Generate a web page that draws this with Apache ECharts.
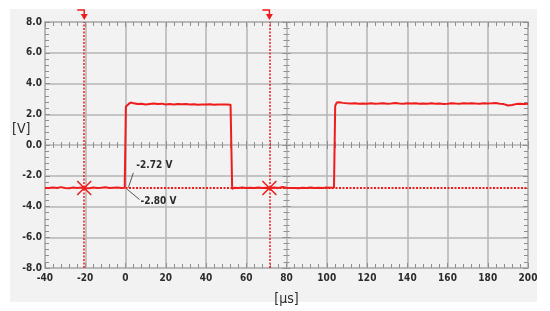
<!DOCTYPE html>
<html>
<head>
<meta charset="utf-8">
<script src="https://cdn.jsdelivr.net/npm/echarts@6/dist/echarts.min.js"></script>
<style>
html, body { margin: 0; padding: 0; background: #fff; }
#panel { position: absolute; left: 10px; top: 9px; width: 527px; height: 293px; background: #f2f2f2; }
#chart { position: absolute; left: 0; top: 0; width: 550px; height: 311px; }
</style>
</head>
<body>
<div id="panel"></div>
<div id="chart"></div>
<script>
// scope trace, time in microseconds, level in volts
var timeUs = [
  -40, -38, -36, -34, -32, -30, -28, -26, -24, -22, -20, -18, -16, -14, -12, -10, -8, -6, -4, -2, -0.4,
  0.2, 1, 2, 3, 4, 6, 8, 10, 12, 14, 16, 18, 20, 22, 24, 26, 28, 30, 32, 34, 36, 38, 40, 42, 44, 46, 48, 50, 52.2,
  53, 54, 56, 58, 60, 62, 64, 66, 68, 70, 72, 74, 76, 78, 80, 82, 84, 86, 88, 90, 92, 94, 96, 98, 100, 102, 103.6,
  104.2, 105, 106, 108, 110, 112, 114, 116, 118, 120, 122, 124, 126, 128, 130, 132, 134, 136, 138, 140, 142, 144,
  146, 148, 150, 152, 154, 156, 158, 160, 162, 164, 166, 168, 170, 172, 174, 176, 178, 180, 182, 184, 186, 188,
  190, 192, 194, 196, 198, 200
];
var volts = [
  -2.79, -2.80, -2.76, -2.80, -2.74, -2.79, -2.81, -2.77, -2.80, -2.76, -2.79, -2.81, -2.77, -2.79, -2.78, -2.75, -2.80, -2.78, -2.77, -2.80, -2.78,
  2.50, 2.62, 2.72, 2.76, 2.71, 2.66, 2.68, 2.64, 2.67, 2.70, 2.66, 2.69, 2.63, 2.66, 2.64, 2.67, 2.65, 2.66, 2.63, 2.65, 2.62, 2.64, 2.63, 2.65, 2.62, 2.64, 2.63, 2.64, 2.62,
  -2.86, -2.78, -2.80, -2.77, -2.79, -2.78, -2.80, -2.76, -2.79, -2.78, -2.80, -2.77, -2.79, -2.73, -2.78, -2.80, -2.79, -2.81, -2.78, -2.79, -2.77, -2.80, -2.78, -2.79, -2.77, -2.78, -2.76,
  2.55, 2.76, 2.78, 2.74, 2.71, 2.70, 2.72, 2.69, 2.70, 2.68, 2.71, 2.69, 2.70, 2.72, 2.69, 2.70, 2.73, 2.70, 2.69, 2.71, 2.70, 2.72,
  2.69, 2.70, 2.68, 2.71, 2.69, 2.70, 2.67, 2.69, 2.72, 2.70, 2.69, 2.71, 2.70, 2.72, 2.70, 2.69, 2.72, 2.70, 2.71, 2.73, 2.69, 2.66,
  2.57, 2.60, 2.66, 2.68, 2.67, 2.68
];
var cursorX = [-20.5, 71.5];
var cursorLevel = -2.80;
var traceLevelText = '-2.72 V';
var cursorLevelText = '-2.80 V';

var RED = '#ee1c1c';
var GRID = '#b4b4b4';
var TICK = '#8f8f8f';
var FONT = '"DejaVu Sans Condensed", "DejaVu Sans", sans-serif';

var points = timeUs.map(function (t, i) { return [t, volts[i]]; });

function xAx(opts) {
  var base = {
    type: 'value', min: -40, max: 200, interval: 20,
    axisLine: { show: true, onZero: false, lineStyle: { color: GRID, width: 1.5 } },
    axisTick: { show: true, inside: true, length: 5, lineStyle: { color: TICK } },
    minorTick: { show: true, splitNumber: 5, length: 4, lineStyle: { color: TICK } },
    axisLabel: { show: false },
    splitLine: { show: false }
  };
  return Object.assign(base, opts);
}
function yAx(opts) {
  var base = {
    type: 'value', min: -8, max: 8, interval: 2,
    axisLine: { show: true, onZero: false, lineStyle: { color: GRID, width: 1.5 } },
    axisTick: { show: true, inside: true, length: 5, lineStyle: { color: TICK } },
    minorTick: { show: true, splitNumber: 5, length: 4, lineStyle: { color: TICK } },
    axisLabel: { show: false },
    splitLine: { show: false }
  };
  return Object.assign(base, opts);
}
var centreTick = { show: true, inside: true, length: 4, lineStyle: { color: TICK } };
var centreMinor = { show: true, splitNumber: 5, length: 3, lineStyle: { color: TICK } };

var chart = echarts.init(document.getElementById('chart'));
chart.setOption({
  animation: false,
  backgroundColor: 'transparent',
  grid: { left: 45, right: 22, top: 22, bottom: 41 },
  xAxis: [
    xAx({
      position: 'bottom',
      splitLine: { show: true, lineStyle: { color: GRID, width: 1.5 } },
      axisLabel: { show: true, color: '#2b2b2b', fontFamily: FONT, fontWeight: 'bold', fontSize: 10, margin: 5 },
      name: '[\u00b5s]', nameLocation: 'middle', nameGap: 24,
      nameTextStyle: { color: '#2b2b2b', fontFamily: FONT, fontSize: 14 }
    }),
    xAx({ position: 'top' }),
    xAx({ position: 'bottom', axisLine: { show: false, onZero: true, onZeroAxisIndex: 0 }, axisTick: centreTick, minorTick: centreMinor }),
    xAx({ position: 'top', axisLine: { show: false, onZero: true, onZeroAxisIndex: 0 }, axisTick: centreTick, minorTick: centreMinor })
  ],
  yAxis: [
    yAx({
      position: 'left',
      splitLine: { show: true, lineStyle: { color: GRID, width: 1.5 } },
      axisLabel: {
        show: true, color: '#2b2b2b', fontFamily: FONT, fontWeight: 'bold', fontSize: 10, margin: 3,
        formatter: function (v) { return v.toFixed(1); }
      }
    }),
    yAx({ position: 'right' }),
    yAx({ position: 'left', offset: -241.5, axisLine: { show: false, onZero: false }, axisTick: centreTick, minorTick: centreMinor }),
    yAx({ position: 'right', offset: -241.5, axisLine: { show: false, onZero: false }, axisTick: centreTick, minorTick: centreMinor })
  ],
  series: [
    {
      type: 'line',
      data: points,
      showSymbol: false,
      symbol: 'none',
      z: 5,
      lineStyle: { color: RED, width: 2 },
      markLine: {
        silent: true,
        symbol: 'none',
        label: { show: false },
        data: [
          { xAxis: cursorX[0], lineStyle: { color: RED, type: [2, 1.5], width: 1.5 } },
          { xAxis: cursorX[1], lineStyle: { color: RED, type: [2, 1.5], width: 1.5 } },
          [
            { coord: [0, cursorLevel], lineStyle: { color: RED, type: [2, 1.5], width: 2 } },
            { coord: [200, cursorLevel] }
          ]
        ]
      }
    },
    {
      type: 'custom',
      z: 6,
      data: cursorX.map(function (x) { return [x, cursorLevel]; }),
      renderItem: function (params, api) {
        var p = api.coord([api.value(0), api.value(1)]);
        var r = 7;
        return {
          type: 'group',
          children: [
            { type: 'line', shape: { x1: p[0] - r, y1: p[1] - r, x2: p[0] + r, y2: p[1] + r }, style: { stroke: RED, lineWidth: 1.5 } },
            { type: 'line', shape: { x1: p[0] - r, y1: p[1] + r, x2: p[0] + r, y2: p[1] - r }, style: { stroke: RED, lineWidth: 1.5 } }
          ]
        };
      }
    }
  ]
});

// cursor flags above the grid and the level callouts
var topY = chart.convertToPixel({ yAxisIndex: 0 }, 8);
var gfx = [
  { type: 'text', left: 12, top: 122, style: { text: '[V]', fill: '#2b2b2b', font: '14px ' + FONT } }
];
cursorX.forEach(function (x) {
  var px = chart.convertToPixel({ xAxisIndex: 0 }, x);
  gfx.push({ type: 'polyline', shape: { points: [[px - 7, topY - 12], [px, topY - 12], [px, topY - 7]] }, style: { stroke: RED, lineWidth: 1.5, fill: null } });
  gfx.push({ type: 'polygon', shape: { points: [[px - 3.5, topY - 8], [px + 3.5, topY - 8], [px, topY - 2]] }, style: { fill: RED } });
});
function pix(x, y) { return chart.convertToPixel({ xAxisIndex: 0, yAxisIndex: 0 }, [x, y]); }
var a1 = pix(1.4, -2.77), b1 = pix(3.9, -1.81), t1 = pix(5.4, -1.33);
var a2 = pix(0.8, -2.88), b2 = pix(7.0, -3.55), t2 = pix(7.4, -3.66);
gfx.push({ type: 'line', shape: { x1: a1[0], y1: a1[1], x2: b1[0], y2: b1[1] }, style: { stroke: '#555', lineWidth: 1 } });
gfx.push({ type: 'line', shape: { x1: a2[0], y1: a2[1], x2: b2[0], y2: b2[1] }, style: { stroke: '#555', lineWidth: 1 } });
gfx.push({ type: 'text', x: t1[0], y: t1[1], style: { text: traceLevelText, fill: '#2b2b2b', font: 'bold 10px ' + FONT, textVerticalAlign: 'middle' } });
gfx.push({ type: 'text', x: t2[0], y: t2[1], style: { text: cursorLevelText, fill: '#2b2b2b', font: 'bold 10px ' + FONT, textVerticalAlign: 'middle' } });
chart.setOption({ graphic: gfx });
</script>
</body>
</html>
